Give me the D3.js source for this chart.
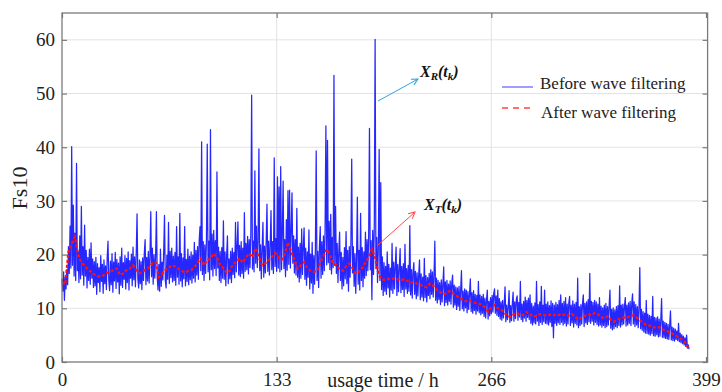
<!DOCTYPE html>
<html>
<head>
<meta charset="utf-8">
<script src="https://cdn.jsdelivr.net/npm/d3@7"></script>
<style>
  html, body { margin: 0; padding: 0; background: #fff; }
  svg { display: block; font-family: "Liberation Serif", "Times New Roman", serif; }
</style>
</head>
<body>
<svg id="chart" width="722" height="392"></svg>
<script>
// Raw Fs10 readings, one sample every half hour starting at 0 h
const rawStepHours = 0.5;
const rawValues = [
  15.5,13.2,16.8,11.5,15.8,13.6,17.2,14.4,21.5,16.5,25.3,17.5,40.1,18,29.2,16,24,15.2,37,17,
  20.5,14.8,23.5,15.5,29,16.2,21.5,14.3,25.5,16,20.8,13.8,19.5,15.2,21,14.5,22.2,15.6,19.2,13.9,
  18.7,14.2,19.5,12.6,18.3,14.8,17.6,13.1,19.8,15,18.2,12.8,19,14.6,17.9,13.5,19.4,22.5,15.2,13.3,
  18.8,14.4,20.2,13,18.6,15.1,20.4,13.7,19.1,14.9,18.4,12.7,19.6,14.3,21.2,13.9,18.5,15.4,19.8,13.6,
  19.3,14.8,20.5,13.4,18.9,15.6,20.1,14.2,21.4,15.3,19.6,14,20.2,27.6,15.5,13.8,19,14.6,18.7,13.5,
  19.4,15.2,20.3,22.8,14.4,19.5,15.1,20.6,14.7,19.8,28,15.9,21.2,14.5,20,15.6,19.5,28,15.8,13.4,
  18.2,13.2,21,14.1,18.6,15.3,20.4,27.3,15.2,13.8,19.9,15.4,26,14.6,20.6,15.7,21.2,14.9,19.7,15.2,
  20.4,14.3,25.2,15.8,19.6,14.5,27.7,15.1,20.2,14,19.4,15.5,25.2,14.2,19.1,15,21,14.4,19.7,15.3,
  20.5,14.7,19.9,15.6,22.3,14.9,20.8,16.2,21.5,15.4,22.6,25.2,17,41,16.3,22.4,15.2,21.8,16.5,22.9,
  40.6,16.8,22.5,15.3,43.3,17.2,23.8,16,24.5,17.4,22.6,16.1,35.4,17.5,21.4,15.2,20.6,14.8,21.3,15.6,
  26.3,15.4,20.5,14.2,19.8,23.5,14.6,19.2,15.5,20.6,14.8,21.2,16.3,20.4,15.7,26,16.8,21.5,26.1,16.2,
  21.7,15.9,22.4,16.5,21.2,15.6,27.8,16.9,22.1,17.2,23.4,16.4,22.8,17.6,24.2,49.7,17.3,22.5,16.8,35.6,
  18.4,25.3,17.6,22.6,39.7,17,21.8,15.5,21.2,26,15.8,21.6,16.6,22.3,29.4,16.9,22.5,16.2,21.8,28.2,
  17.2,22.4,16.5,38,17.8,23,16.9,34.5,17.5,32.6,16.8,36.4,17.2,23.6,33.7,17.4,22.8,15.9,26.5,17.1,
  31.9,18.2,32,17.5,24.3,31.5,18.4,23.5,16.6,22.8,16.2,28.6,15.8,21.4,14.9,22.1,15.6,24.8,16.3,21.5,
  25,15.4,21.2,14.3,20.5,15.8,24.6,13.6,20.1,14.7,22.3,12.8,19.8,14.5,21,39.3,15.2,20.6,13.9,21.4,
  25.2,15.6,22.4,16.3,23.5,17,24.6,44,18.1,41.3,18.5,26.2,17.2,27.5,16.4,23.2,17.6,53.4,18.2,29,
  16.5,22.1,14.8,20.6,24.2,15.2,20.4,13.6,19.5,14.2,21.3,15.5,24.3,14.6,20.8,13.2,21.5,15.8,22.4,37.8,
  16.6,21.5,14.1,20.2,12.8,19.6,30.7,14.5,20.8,13.4,27.7,15.2,21.3,14,20.5,15.6,24.2,16.1,22.8,17,
  23.5,43.5,17.2,22.6,11.6,24.5,16.3,25.8,60.1,17.4,23.2,14.8,21.5,39.6,15.2,33.4,13.5,19.6,12.4,18.5,
  13.2,17.8,12.6,20.5,13.8,18.2,12.1,17.5,13.4,22.1,12.8,18.6,13.6,17.9,21.4,12.4,18.2,13.1,17.6,21.1,
  12.9,17.8,13.5,18.3,12.2,21.9,13.6,17.4,12.8,18,13.2,25.4,12.5,17.2,11.9,16.8,18.5,12.6,16.9,11.8,
  16.6,12.3,16.2,19,11.6,16.4,12.1,15.8,11.4,19.3,12,16.1,11.2,15.7,12.4,16.5,11.8,17.2,12.6,16.8,
  12.1,16.3,22.5,11.5,15.6,11,15.2,11.6,14.8,10.7,15.3,11.2,14.6,17.7,10.5,14.9,11.1,15.2,10.6,14.5,
  11.3,15.1,10.8,14.7,16.2,10.2,14.3,10.6,14,9.8,13.8,10.4,14.1,9.6,13.5,17,9.9,13.2,9.5,13.6,
  10.1,13.4,9.2,13.1,9.8,12.8,15.5,9.4,12.9,9.1,13.3,9.6,12.6,8.9,12.4,9.5,15,9.2,12.5,8.8,
  12.2,9.1,12.6,8.5,11.9,8.2,11.5,13.4,8,11.3,8.6,12,9,12.4,9.3,12.8,13.6,9.1,12.3,8.7,
  13.4,8.5,11.8,8,11.2,7.8,11.5,8.2,10.8,14,7.5,10.6,7.9,10.3,13.3,7.4,10.5,7.7,10.9,13,
  7.6,11.2,8.1,11.6,12.3,7.8,11.1,8.4,15,7.9,10.8,7.5,11.3,8.2,12.1,7.6,11.5,8.3,11.9,7.9,
  12.5,7.2,10.9,6.9,10.4,7.3,11,7.1,15,7.6,10.7,6.8,11.2,7.4,14.1,7,10.6,7.5,13.4,7.2,
  10.8,7.1,11.2,6.9,10.5,7.4,11.4,6.6,10.9,4.5,10.6,7.2,11.1,6.8,10.7,7.3,11.5,7,12.5,7.4,
  10.9,6.9,11.3,7.2,12,6.7,10.8,7.1,11,12.2,6.8,10.6,7.3,11.4,6.5,10.8,7.2,11.1,6.9,15.6,
  6.4,10.3,6.8,10.7,7.1,11,12.5,6.6,10.9,7.3,11.2,7,11.6,7.5,16.5,7.2,11.3,7.6,11.1,6.9,
  11.5,7.4,11.2,7,10.8,6.7,12,6.9,10.4,6.5,10.1,6.8,10.6,6.4,10.9,6.6,10.3,6.9,10.5,13.4,
  6.3,9.8,6,10.1,6.2,9.7,6.6,10.3,6.4,10.5,6.8,14.2,6.5,10.6,6.9,10.8,7.1,10.4,12,6.7,
  10.6,6.9,11,7.2,11.3,6.8,10.9,12.7,7.1,11.2,6.6,10.7,6.9,10.3,6.4,10.1,17.6,6.2,9.8,5.9,
  9.4,5.6,9.1,5.4,11.5,5.3,8.9,5.2,8.7,5,8.5,5.3,12.2,4.9,8.3,4.8,8.2,5.1,8.4,4.7,
  8,4.8,7.9,11.8,4.6,7.6,4.5,7.4,4.4,7.2,4.3,7,4.2,6.8,9.5,4.1,6.5,4,6.3,3.9,
  6.1,4.2,5.8,4,7.2,3.8,5.4,3.6,5.1,3.4,4.8,3.2,4.5,2.9,5,2.6,3.2,2.4
];

// Filtered Fs10 trend, one sample every two hours starting at 0 h
const filteredStepHours = 2;
const filteredValues = [
  14.8,14.5,20.5,22,23.3,20,18.5,18,17.2,16.8,
  16.3,16,15.9,16.2,16.6,16.8,17.2,17.4,16.2,16.5,
  17.1,17.4,18,17.2,16.5,16.8,17.3,17.6,18.4,18.6,
  15.8,16.4,17.1,17.5,18,17.8,17.4,17,16.7,16.9,
  17.1,17.6,18.5,19.3,18,19,19.2,20.2,19.5,18,
  17.5,16.6,17,18.3,18.6,19.3,18.5,19.5,20.2,19.5,
  21.2,19.5,18,18.4,19,19.5,20.3,19.5,19,20,
  22.3,20.5,19,17.4,18,18.6,17.5,17,16.8,16.9,
  18.5,19.8,21,20,18.2,18,17.3,17,17.8,18.3,
  17.5,16.5,16.8,17.5,18.5,19.5,21,19.5,16.5,15.4,
  15.3,15.5,15.4,15.6,15.4,15.2,15.4,15.1,14.8,14.9,
  14.6,14.4,14,13.9,14.6,14.2,13.5,13.1,12.6,12.8,
  13.2,12.9,12.3,12.1,11.6,11.3,11.5,11.2,11,10.9,
  10.7,10.2,9.4,10.2,10.6,10,9.8,9.2,8.6,8.4,
  8.9,9.1,8.7,8.8,9.3,8.9,8.4,8.6,8.9,8.8,
  8.7,8.8,8.9,8.6,8.8,8.7,8.9,8.6,8.9,8.4,
  7.9,8.3,8.6,8.9,8.7,9.1,8.9,8.4,8.1,8.5,
  7.9,7.5,7.9,8.1,8.3,8.2,8.6,8.7,8.3,7.8,
  7.3,6.9,6.8,6.5,6.4,6.5,6.1,5.8,5.6,5.3,
  5,4.6,4.2,3.7,2.6
];

const xTicks = [0, 133, 266, 399];
const yTicks = [0, 10, 20, 30, 40, 50, 60];
const seriesNames = ["Before wave filtering", "After wave filtering"];

const svg = d3.select("#chart");
const plot = { left: 62, right: 707.6, top: 13, bottom: 362 };

const x = d3.scaleLinear().domain([0, 400]).range([plot.left, plot.right]);
const y = d3.scaleLinear().domain([0, 65]).range([plot.bottom, plot.top]);

const axisColor = "#7a7a7a";
const textColor = "#222";
const serif = "'Liberation Serif', 'Times New Roman', serif";

// grid
svg.append("g").selectAll("line").data(yTicks.filter(d => d > 0)).join("line")
  .attr("x1", plot.left).attr("x2", plot.right)
  .attr("y1", d => y(d)).attr("y2", d => y(d))
  .attr("stroke", "#e3e3e3").attr("stroke-width", 1);
svg.append("g").selectAll("line").data(xTicks.filter(d => d > 0 && d < 399)).join("line")
  .attr("x1", d => x(d)).attr("x2", d => x(d))
  .attr("y1", plot.top).attr("y2", plot.bottom)
  .attr("stroke", "#e3e3e3").attr("stroke-width", 1);

// series
const rawLine = d3.line()
  .x((d, i) => x(i * rawStepHours))
  .y(d => y(d));
const filteredLine = d3.line()
  .x((d, i) => x(i * filteredStepHours))
  .y(d => y(d));

svg.append("path")
  .datum(rawValues)
  .attr("d", rawLine)
  .attr("fill", "none")
  .attr("stroke", "#0000ff")
  .attr("stroke-opacity", 0.85)
  .attr("stroke-width", 1.25)
  .attr("stroke-linejoin", "round");

svg.append("path")
  .datum(filteredValues)
  .attr("d", filteredLine)
  .attr("fill", "none")
  .attr("stroke", "#ff1010")
  .attr("stroke-width", 2.3)
  .attr("stroke-dasharray", "3,2");

// axes: frame and inward ticks on all sides
const axisG = svg.append("g");
axisG.append("rect")
  .attr("x", plot.left).attr("y", plot.top)
  .attr("width", plot.right - plot.left).attr("height", plot.bottom - plot.top)
  .attr("fill", "none").attr("stroke", axisColor).attr("stroke-width", 1.3);

const yAxisL = d3.axisLeft(y).tickValues(yTicks).tickSize(-5).tickPadding(7);
const yAxisR = d3.axisRight(y).tickValues(yTicks).tickSize(-5).tickFormat("");
const xAxisB = d3.axisBottom(x).tickValues(xTicks).tickSize(-5).tickPadding(11);
const xAxisT = d3.axisTop(x).tickValues(xTicks).tickSize(-5).tickFormat("");

function styleAxis(g) {
  g.select(".domain").remove();
  g.selectAll(".tick line").attr("stroke", axisColor).attr("stroke-width", 1.2);
  g.selectAll(".tick text")
    .attr("fill", textColor)
    .style("font-family", serif)
    .style("font-size", "19px");
}
axisG.append("g").attr("transform", `translate(${plot.left},0)`).call(yAxisL).call(styleAxis);
axisG.append("g").attr("transform", `translate(${plot.right},0)`).call(yAxisR).call(styleAxis);
axisG.append("g").attr("transform", `translate(0,${plot.bottom})`).call(xAxisB).call(styleAxis);
axisG.append("g").attr("transform", `translate(0,${plot.top})`).call(xAxisT).call(styleAxis);

// axis titles
svg.append("text")
  .attr("x", 383).attr("y", 387)
  .attr("text-anchor", "middle")
  .attr("fill", textColor)
  .style("font-size", "20px")
  .text("usage time / h");
svg.append("text")
  .attr("transform", "translate(27,188) rotate(-90)")
  .attr("text-anchor", "middle")
  .attr("fill", textColor)
  .style("font-size", "22px")
  .text("Fs10");

// legend
const legend = svg.append("g");
legend.append("line")
  .attr("x1", 502).attr("x2", 533).attr("y1", 87).attr("y2", 87)
  .attr("stroke", "#6a6aff").attr("stroke-width", 1.3);
legend.append("line")
  .attr("x1", 502).attr("x2", 534).attr("y1", 108).attr("y2", 108)
  .attr("stroke", "#ff4040").attr("stroke-width", 1.5)
  .attr("stroke-dasharray", "6,5");
legend.append("text").attr("x", 540).attr("y", 89)
  .attr("fill", textColor).style("font-size", "17px").text(seriesNames[0]);
legend.append("text").attr("x", 541).attr("y", 118)
  .attr("fill", textColor).style("font-size", "17px").text(seriesNames[1]);

// annotation arrows with open heads
const defs = svg.append("defs");
function arrowMarker(id, color) {
  defs.append("marker")
    .attr("id", id)
    .attr("viewBox", "0 0 10 10")
    .attr("refX", 9).attr("refY", 5)
    .attr("markerWidth", 8).attr("markerHeight", 8)
    .attr("markerUnits", "userSpaceOnUse")
    .attr("orient", "auto")
    .append("path")
    .attr("d", "M1,1 L9,5 L1,9")
    .attr("fill", "none").attr("stroke", color).attr("stroke-width", 1.3);
}
arrowMarker("arrow-raw", "#2fa6dc");
arrowMarker("arrow-filt", "#ff4a4a");

svg.append("line")
  .attr("x1", 378).attr("y1", 101).attr("x2", 418).attr("y2", 79)
  .attr("stroke", "#2fa6dc").attr("stroke-width", 1)
  .attr("marker-end", "url(#arrow-raw)");
svg.append("line")
  .attr("x1", 378).attr("y1", 245).attr("x2", 415).attr("y2", 212)
  .attr("stroke", "#ff4a4a").attr("stroke-width", 1)
  .attr("marker-end", "url(#arrow-filt)");

function symbolLabel(xPos, yPos, sub) {
  const t = svg.append("text")
    .attr("x", xPos).attr("y", yPos)
    .attr("fill", "#111")
    .style("font-size", "16px")
    .style("font-weight", "bold")
    .style("font-style", "italic");
  t.append("tspan").text("X");
  t.append("tspan").attr("dy", 3).style("font-size", "11px").text(sub);
  t.append("tspan").attr("dy", -3).text("(t");
  t.append("tspan").attr("dy", 3).style("font-size", "11px").text("k");
  t.append("tspan").attr("dy", -3).text(")");
}
symbolLabel(420, 77, "R");
symbolLabel(424, 210, "T");
</script>
</body>
</html>
